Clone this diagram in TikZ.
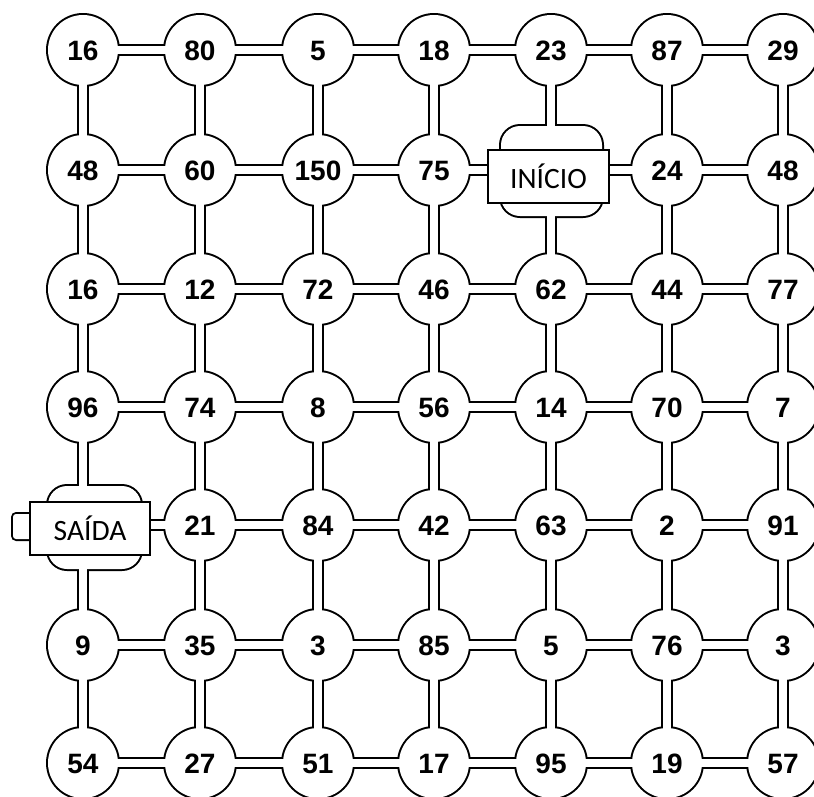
\documentclass[tikz,border=0pt]{standalone}
\usepackage{fontspec}
\setmainfont{Liberation Sans}
\newfontfamily\labelfont{Carlito}
\begin{document}
\begin{tikzpicture}[x=1pt,y=-1pt,
  corrouter/.style={line width=12pt, black},
  corrinner/.style={line width=8pt, white},
  num/.style={font=\bfseries\fontsize{28}{28}\selectfont, inner sep=0pt, text height=20pt, text depth=0pt},
  tagbox/.style={draw, line width=1.5pt, fill=white, font=\labelfont\fontsize{29.5}{29.5}\selectfont, inner sep=0pt}
]
\useasboundingbox (0,0) rectangle (814,796);
% grid coordinates
\foreach \x [count=\i] in {83,200,318,434,551,667,783}
  \foreach \y [count=\j] in {50,170,289,407,525,645,763}
    \coordinate (c-\j-\i) at (\x,\y);
% ---------- black layer ----------
\foreach \j in {1,...,7}
  \foreach \i in {1,...,6} {
    \pgfmathtruncatemacro\k{\i+1}
    \draw[corrouter] (c-\j-\i) -- (c-\j-\k);
    \draw[corrouter] (c-\i-\j) -- (c-\k-\j);
  }
\foreach \j in {1,...,7}
  \foreach \i in {1,...,7} {
    \ifnum\j\i=25\relax\else\ifnum\j\i=51\relax\else
      \fill[black] (c-\j-\i) circle (37);
    \fi\fi
  }
\fill[black, rounded corners=21pt] (499,124) rectangle (604,218);
\fill[black, rounded corners=21pt] (46,484) rectangle (143,571);
\fill[black, rounded corners=5pt] (11,512) rectangle (40,541);
% ---------- white layer ----------
\foreach \j in {1,...,7}
  \foreach \i in {1,...,6} {
    \pgfmathtruncatemacro\k{\i+1}
    \draw[corrinner] (c-\j-\i) -- (c-\j-\k);
    \draw[corrinner] (c-\i-\j) -- (c-\k-\j);
  }
\foreach \j in {1,...,7}
  \foreach \i in {1,...,7} {
    \ifnum\j\i=25\relax\else\ifnum\j\i=51\relax\else
      \fill[white] (c-\j-\i) circle (35);
    \fi\fi
  }
\fill[white, rounded corners=19pt] (501,126) rectangle (602,216);
\fill[white, rounded corners=19pt] (48,486) rectangle (141,569);
\fill[white, rounded corners=3pt] (13,514) rectangle (40,539);
% ---------- labels ----------
\foreach \row [count=\j] in {
  {16,80,5,18,23,87,29},
  {48,60,150,75,,24,48},
  {16,12,72,46,62,44,77},
  {96,74,8,56,14,70,7},
  {,21,84,42,63,2,91},
  {9,35,3,85,5,76,3},
  {54,27,51,17,95,19,57}}
  \foreach \v [count=\i] in \row
    \node[num] (t-\j-\i) at (c-\j-\i) {\v};
\node[tagbox, minimum width=121pt, minimum height=53pt] (inicio) at (548.5,176.5) {INÍCIO};
\node[tagbox, minimum width=120pt, minimum height=53pt] (saida) at (90,528.5) {SAÍDA};
\end{tikzpicture}
\end{document}
